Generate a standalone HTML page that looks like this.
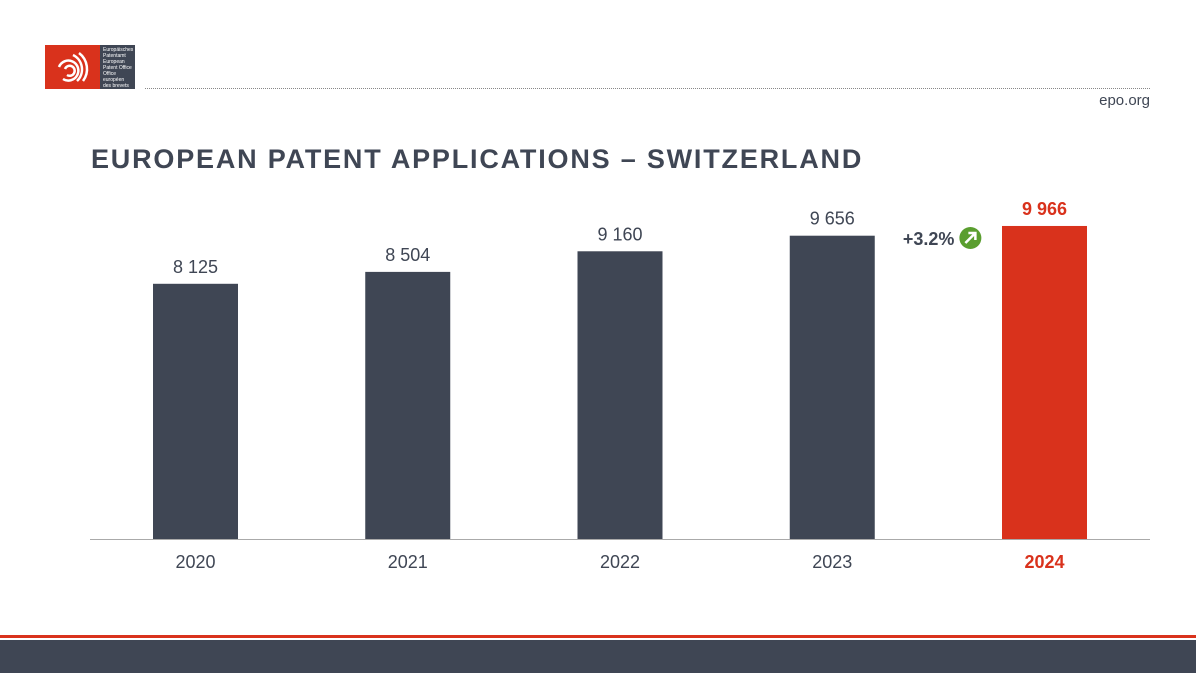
<!DOCTYPE html>
<html><head><meta charset="utf-8"><style>
body{margin:0;width:1196px;height:673px;overflow:hidden;background:#fff;font-family:"Liberation Sans",sans-serif;position:relative}
.a{position:absolute}
</style></head><body>
<div class="a" style="left:45px;top:45px;width:90px;height:44px">
 <div class="a" style="left:0;top:0;width:55px;height:44px;background:#d9321c"></div>
 <svg class="a" style="left:8px;top:6px" width="40" height="34" viewBox="0 0 40 34"><g fill="none" stroke="#fff" stroke-width="2.5"><path d="M10 28a10 10 0 1 0 -4 -12"/><path d="M14 24a5 5 0 1 0 -2 -6"/><path d="M20 4a16 16 0 0 1 4 26"/><path d="M26 2a20 20 0 0 1 4 28"/></g></svg>
 <div class="a" style="left:55px;top:0;width:35px;height:44px;background:#3f4654;color:#fff;font-size:5px;line-height:6px;padding:2px 3px;box-sizing:border-box">Europäisches Patentamt<br>European Patent Office<br>Office européen des brevets</div>
</div>
<div class="a" style="left:145px;top:88px;width:1005px;border-top:1px dotted #888"></div>
<div class="a" style="right:46px;top:92px;font-size:15px;color:#3f4654">epo.org</div>
<div class="a" style="left:91px;top:144px;font-size:27px;letter-spacing:1.8px;font-weight:bold;color:#3f4654;white-space:nowrap">EUROPEAN PATENT APPLICATIONS – SWITZERLAND</div>
<svg class="a" style="left:0;top:0" width="1196" height="673" id="chart"></svg>
<div class="a" style="left:0;top:635px;width:1196px;height:3px;background:#d9321c"></div>
<div class="a" style="left:0;top:640px;width:1196px;height:33px;background:#3f4654"></div>
<script>
const categories=["2020","2021","2022","2023","2024"];
const values=[8125,8504,9160,9656,9966];
const labels=["8 125","8 504","9 160","9 656","9 966"];
const growthLabel="+3.2%";
const svg=document.getElementById('chart');
const NS="http://www.w3.org/2000/svg";
const base=539,k=0.03141,x0=195.5,step=212.25,bw=85;
const y=v=>base-v*k;
const x=i=>x0+i*step;
function mk(t,a){const e=document.createElementNS(NS,t);for(const q in a)e.setAttribute(q,a[q]);svg.appendChild(e);return e;}
categories.forEach((c,i)=>{
 const last=i===categories.length-1;
 const col=last?"#d9321c":"#3f4654";
 const r=mk('rect',{x:x(i)-bw/2,y:y(values[i]),width:bw,height:base-y(values[i]),fill:col});
 
 
 const t=mk('text',{x:x(i),y:y(values[i])-11,'text-anchor':'middle','font-size':18,fill:last?"#d9321c":"#3f4654",'font-weight':last?'bold':'normal'});
 t.textContent=labels[i];
 
 
 const l=mk('text',{x:x(i),y:568,'text-anchor':'middle','font-size':18,fill:last?"#d9321c":"#3f4654",'font-weight':last?'bold':'normal'});
 l.textContent=c;
 
 
});
const ax=mk('line',{x1:90,x2:1150,y1:base+0.5,y2:base+0.5,stroke:'#aaa','stroke-width':1});


const gx=(x(3)+x(4))/2;
const g=mk('text',{x:gx+16,y:245,'text-anchor':'end','font-size':18,'font-weight':'bold',fill:'#3f4654'});
g.textContent=growthLabel;


const c=mk('circle',{cx:gx+32,cy:238,r:11,fill:'#5a9e2f'});


mk('path',{d:`M${gx+27} ${243} L${gx+37} ${233} M${gx+30} ${233} L${gx+37} ${233} L${gx+37} ${240}`,stroke:'#fff','stroke-width':2.5,fill:'none'});
</script>
</body></html>
